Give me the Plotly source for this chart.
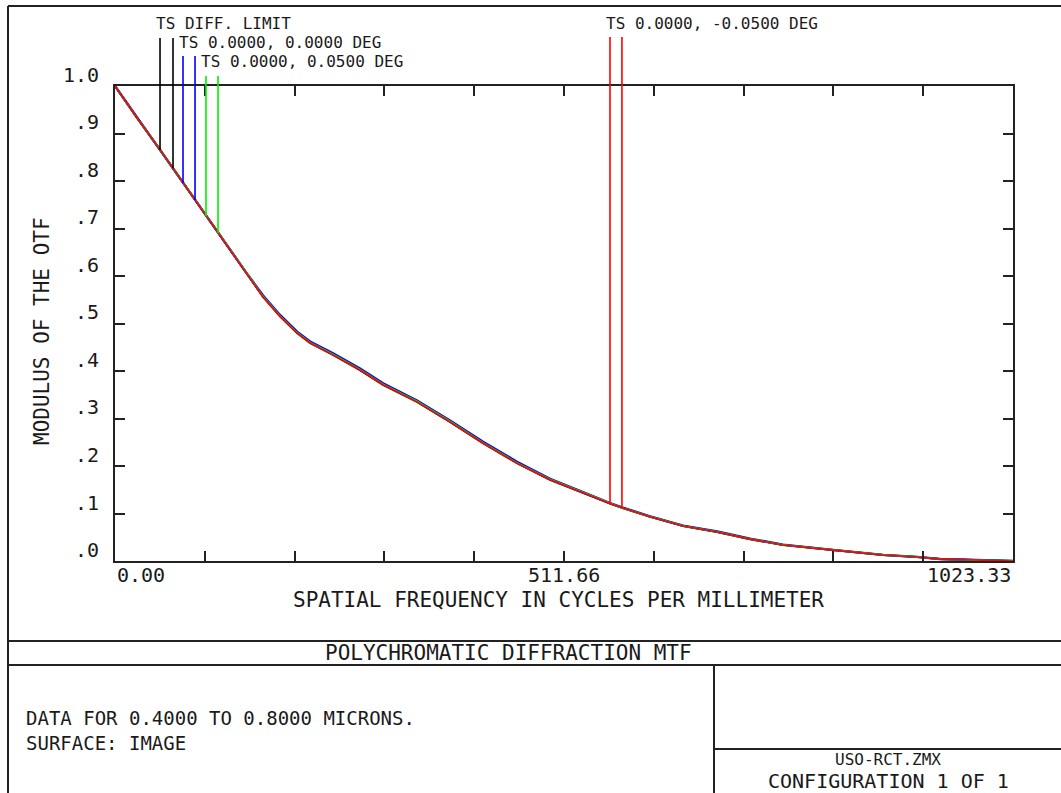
import plotly.graph_objects as go

W, H = 1061, 793

# ---------------- data ----------------
freq = [0, 25, 51.3, 66.1, 77.5, 91.2, 103.7, 117.4, 150.4, 168.7, 188, 207.4,
        222.2, 248.4, 279.2, 305.4, 344.1, 381.7, 419.4, 458, 495.7, 533.3, 549,
        564.1, 577.7, 609.8, 647.3, 686, 723.6, 761.2, 818.2, 875.2, 913.9, 940,
        980, 1023.33]

mtf_diff_limit = [1.0, 0.933, 0.866, 0.827, 0.796, 0.760, 0.726, 0.690, 0.602, 0.556,
                  0.515, 0.480, 0.459, 0.434, 0.402, 0.371, 0.335, 0.293, 0.248, 0.206,
                  0.171, 0.143, 0.132, 0.121, 0.112, 0.093, 0.0737, 0.061, 0.046,
                  0.0337, 0.023, 0.0126, 0.0084, 0.004, 0.002, 0.0]
mtf_0deg = [1.0, 0.934, 0.867, 0.828, 0.797, 0.762, 0.728, 0.692, 0.605, 0.559,
            0.518, 0.483, 0.462, 0.437, 0.405, 0.374, 0.338, 0.296, 0.251, 0.209,
            0.173, 0.145, 0.133, 0.122, 0.113, 0.094, 0.0745, 0.062, 0.047,
            0.0345, 0.0235, 0.013, 0.0086, 0.0042, 0.002, 0.0]
mtf_p05deg = [1.0, 0.933, 0.866, 0.827, 0.796, 0.760, 0.726, 0.690, 0.603, 0.557,
              0.516, 0.481, 0.460, 0.435, 0.403, 0.372, 0.336, 0.294, 0.249, 0.207,
              0.172, 0.144, 0.132, 0.121, 0.112, 0.0935, 0.074, 0.0613, 0.0463,
              0.034, 0.0232, 0.0128, 0.0085, 0.0041, 0.002, 0.0]
mtf_m05deg = [1.0, 0.933, 0.866, 0.827, 0.796, 0.760, 0.726, 0.690, 0.602, 0.556,
              0.515, 0.480, 0.459, 0.434, 0.402, 0.371, 0.335, 0.293, 0.248, 0.206,
              0.171, 0.143, 0.132, 0.121, 0.112, 0.093, 0.0737, 0.061, 0.046,
              0.0337, 0.023, 0.0126, 0.0084, 0.004, 0.002, 0.0]

series_names = ["TS DIFF. LIMIT", "TS 0.0000, 0.0000 DEG",
                "TS 0.0000, 0.0500 DEG", "TS 0.0000, -0.0500 DEG"]
series_values = [mtf_diff_limit, mtf_0deg, mtf_p05deg, mtf_m05deg]

# leader-line anchor points on the curves (frequency, MTF)
leader_freq = [[51.3, 66.1], [77.5, 91.2], [103.7, 117.4], [564.1, 577.7]]
leader_mtf = [[0.866, 0.827], [0.796, 0.760], [0.726, 0.690], [0.121, 0.112]]

x_max = 1023.33
x_tick_step = 102.333
x_tick_labels = ["0.00", "511.66", "1023.33"]
x_tick_label_values = [0, 511.66, 1023.33]
y_tick_values = [0.0, 0.1, 0.2, 0.3, 0.4, 0.5, 0.6, 0.7, 0.8, 0.9, 1.0]
y_tick_labels = [".0", ".1", ".2", ".3", ".4", ".5", ".6", ".7", ".8", ".9", "1.0"]

# ---------------- styles / layout ----------------
colors = ["#000000", "#0000ff", "#00ee00", "#ff0000"]
widths = [2.0, 2.4, 1.8, 1.6]
FONT = "DejaVu Sans Mono"
TXT = "#1a1a1a"

def px(p):
    return p / W

def py(p):
    return 1 - p / H

plot_l, plot_r, plot_t, plot_b = 115, 1013, 86, 561
ydom = [py(plot_b), py(plot_t)]
# second (invisible) y axis with the same scale, extending to the top of the page
y2_top = (1 - ydom[0]) / (ydom[1] - ydom[0])

# top ends (in MTF units on the shared scale) and label placement for leaders
leader_top = [1.101, 1.063, 1.021, 1.103]
label_pos = [(155, 23), (178, 43), (200, 62), (605, 24)]

fig = go.Figure()

for name, vals, c, w in zip(series_names, series_values, colors, widths):
    fig.add_trace(go.Scatter(x=freq, y=vals, mode="lines", name=name,
                             line=dict(color=c, width=w), hoverinfo="skip"))

for fs, ms, top, c in zip(leader_freq, leader_mtf, leader_top, colors):
    xs, ys = [], []
    for f, m in zip(fs, ms):
        xs += [f, f, None]
        ys += [m, top, None]
    fig.add_trace(go.Scatter(x=xs, y=ys, mode="lines", yaxis="y2",
                             line=dict(color=c, width=1.6), hoverinfo="skip",
                             showlegend=False))

annotations = []
for name, (lx, ly) in zip(series_names, label_pos):
    annotations.append(dict(text=name, xref="paper", yref="paper", x=px(lx), y=py(ly),
                            xanchor="left", yanchor="middle", showarrow=False,
                            borderpad=0,
                            font=dict(family=FONT, size=16, color=TXT)))

# x tick labels
x_anchors = ["left", "center", "right"]
for lab, v, a in zip(x_tick_labels, x_tick_label_values, x_anchors):
    annotations.append(dict(text=lab, xref="x", yref="paper", x=v, y=py(575),
                            xanchor=a, yanchor="middle", showarrow=False,
                            font=dict(family=FONT, size=20, color=TXT)))
# y tick labels (placed slightly above their ticks, as in the original)
for lab, v in zip(y_tick_labels, y_tick_values):
    annotations.append(dict(text=lab, xref="paper", yref="y", x=px(101), y=v,
                            xanchor="right", yanchor="middle", yshift=11,
                            showarrow=False,
                            font=dict(family=FONT, size=20, color=TXT)))

# axis titles
annotations.append(dict(text="SPATIAL FREQUENCY IN CYCLES PER MILLIMETER",
                        xref="paper", yref="paper", x=px(558), y=py(600),
                        xanchor="center", yanchor="middle", showarrow=False,
                        font=dict(family=FONT, size=21, color=TXT)))
annotations.append(dict(text="MODULUS OF THE OTF", xref="paper", yref="paper",
                        x=px(42), y=py(331), xanchor="center", yanchor="middle",
                        textangle=-90, showarrow=False,
                        font=dict(family=FONT, size=21, color=TXT)))

# title block texts
annotations.append(dict(text="POLYCHROMATIC DIFFRACTION MTF", xref="paper", yref="paper",
                        x=px(508), y=py(653), xanchor="center", yanchor="middle",
                        showarrow=False, font=dict(family=FONT, size=21, color=TXT)))
annotations.append(dict(text="DATA FOR 0.4000 TO 0.8000 MICRONS.<br>SURFACE: IMAGE",
                        xref="paper", yref="paper", x=px(24), y=py(730),
                        xanchor="left", yanchor="middle", align="left",
                        showarrow=False, font=dict(family=FONT, size=19, color=TXT)))
annotations.append(dict(text="USO-RCT.ZMX", xref="paper", yref="paper",
                        x=px(888), y=py(759), xanchor="center", yanchor="middle",
                        showarrow=False, borderpad=0,
                        font=dict(family=FONT, size=16, color=TXT)))
annotations.append(dict(text="CONFIGURATION 1 OF 1", xref="paper", yref="paper",
                        x=px(888), y=py(781), xanchor="center", yanchor="middle",
                        showarrow=False, borderpad=0,
                        font=dict(family=FONT, size=20, color=TXT)))

frame = dict(color="#222222", width=2)
shapes = [
    dict(type="line", xref="paper", yref="paper", x0=px(8), x1=1, y0=py(6), y1=py(6), line=frame),
    dict(type="line", xref="paper", yref="paper", x0=px(8), x1=px(8), y0=py(6), y1=0, line=frame),
    dict(type="line", xref="paper", yref="paper", x0=px(8), x1=1, y0=py(641), y1=py(641), line=frame),
    dict(type="line", xref="paper", yref="paper", x0=px(8), x1=1, y0=py(665), y1=py(665), line=frame),
    dict(type="line", xref="paper", yref="paper", x0=px(714), x1=px(714), y0=py(665), y1=0, line=frame),
    dict(type="line", xref="paper", yref="paper", x0=px(714), x1=1, y0=py(749), y1=py(749), line=frame),
]

x_ticks = [i * x_tick_step for i in range(11)]

fig.update_layout(
    width=W, height=H, margin=dict(l=0, r=0, t=0, b=0),
    paper_bgcolor="white", plot_bgcolor="rgba(0,0,0,0)", showlegend=False,
    xaxis=dict(domain=[px(plot_l), px(plot_r)], range=[0, x_max], anchor="y",
               showgrid=False, zeroline=False, showline=True, linecolor="#222222",
               linewidth=2, mirror="ticks", ticks="inside", ticklen=10, tickwidth=2,
               tickcolor="#222222", tickvals=x_ticks, showticklabels=False),
    yaxis=dict(domain=ydom, range=[0, 1], anchor="x",
               showgrid=False, zeroline=False, showline=True, linecolor="#222222",
               linewidth=2, mirror="ticks", ticks="inside", ticklen=10, tickwidth=2,
               tickcolor="#222222", tickvals=y_tick_values, showticklabels=False),
    yaxis2=dict(domain=[ydom[0], 1], range=[0, y2_top], anchor="x", visible=False,
                showgrid=False, zeroline=False),
    annotations=annotations, shapes=shapes,
)

fig.write_html("out.html")
